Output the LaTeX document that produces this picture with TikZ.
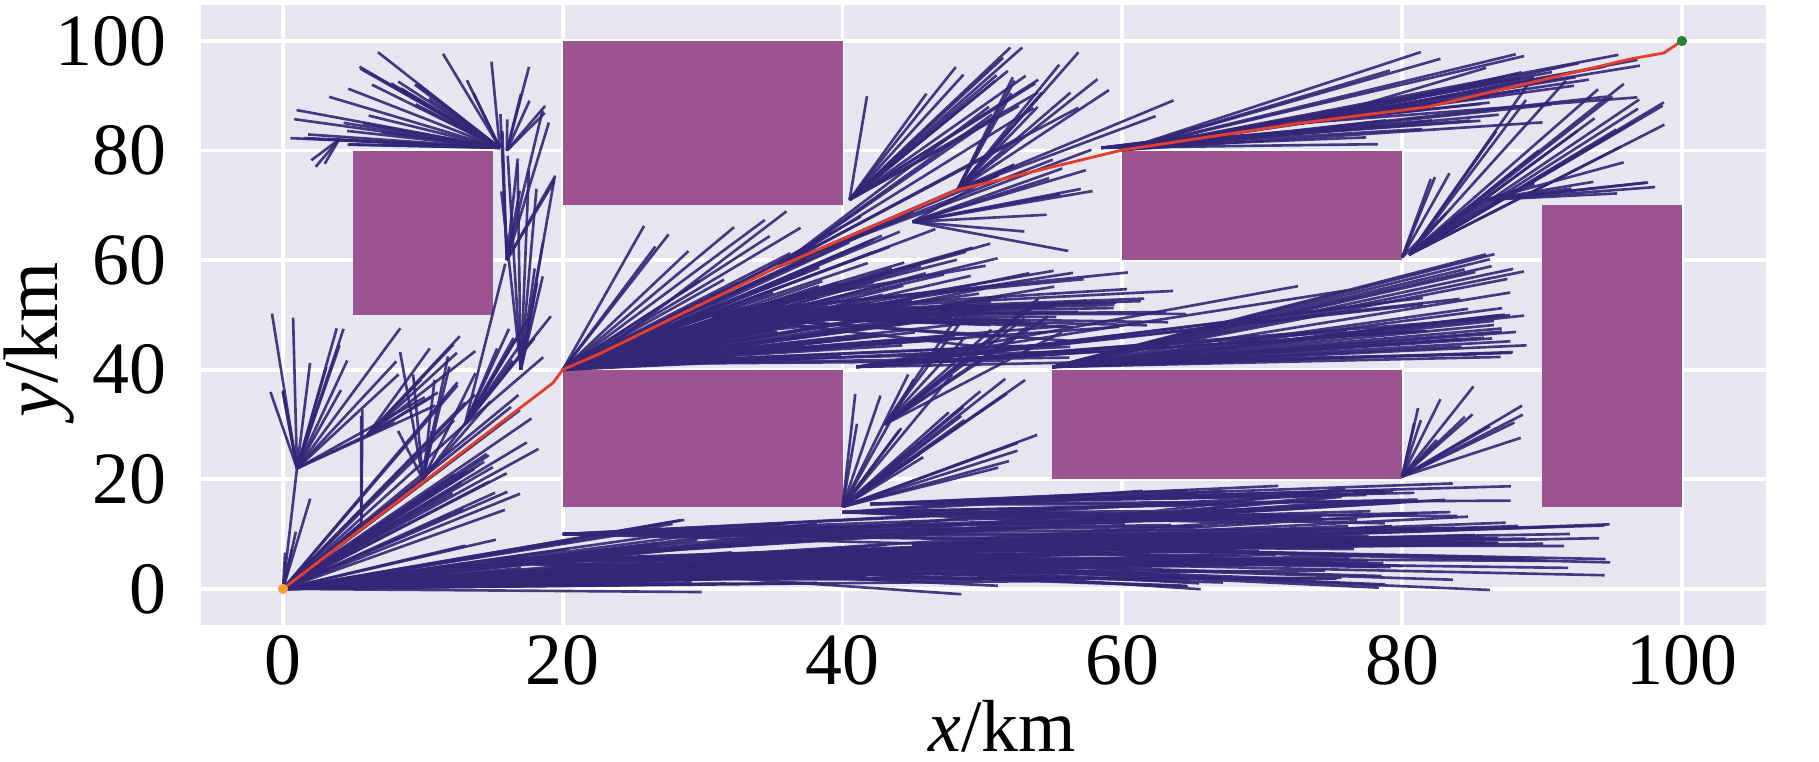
\documentclass[tikz,border=0pt]{standalone}
\usepackage{fontspec}
\setmainfont{Liberation Serif}
\definecolor{panel}{RGB}{229,230,240}
\definecolor{block}{RGB}{150,72,138}
\definecolor{branchc}{RGB}{52,38,118}
\definecolor{routec}{RGB}{228,62,45}
\definecolor{startc}{RGB}{245,160,50}
\definecolor{goalc}{RGB}{40,130,50}
\begin{document}
\begin{tikzpicture}[x=0.1399cm, y=0.0548cm,
  grid line/.style={white, line width=1.1pt},
  obstacle/.style={fill=block, fill opacity=0.93},
  branch/.style={branchc, line width=0.75pt, draw opacity=0.9},
  route/.style={routec, line width=0.8pt},
  dot/.style={circle, inner sep=0pt, minimum size=0.1cm},
  tick/.style={font=\fontsize{21}{25}\selectfont, inner sep=0pt}]
\useasboundingbox (-20.23,-31.57) rectangle (109.80,107.48);
\fill[panel] (-5.86,-6.57) rectangle (106.0,106.57);

\foreach \v in {0,20,...,100}{
  \draw[grid line] (\v,-6.57) -- (\v,106.57);
  \draw[grid line] (-5.86,\v) -- (106.0,\v);
  \node[tick, anchor=base] (xt\v) at (\v,-17.5) {\v};
  \node[tick, anchor=east] (yt\v) at (-8.3,\v) {\v};
}
\node[tick, anchor=base] (xlab) at (51.4,-29.6) {\textit{x}/km};
\node[tick, font=\fontsize{22}{26}\selectfont, anchor=base, rotate=90] (ylab)
  at (-16.1,45.4) {\textit{y}/km};

% obstacles
\fill[obstacle] (5,50) rectangle (15,80);
\fill[obstacle] (20,70) rectangle (40,100);
\fill[obstacle] (20,15) rectangle (40,40);
\fill[obstacle] (60,60) rectangle (80,80);
\fill[obstacle] (55,20) rectangle (80,40);
\fill[obstacle] (90,15) rectangle (100,70);

% tree: root / end box / count
\pgfmathsetseed{42}
\foreach \rx/\ry/\xa/\xb/\ya/\yb/\n in {
  0/0/12/19/14/38/28, 0/0/8/30/0/9/15, 0/0/25/55/0/14/30,
  0/0/20/45/-1/4/12, 0/0/0/2/5/22/4, 10/2/40/80/0/12/20,
  15/5/45/70/-1/14/18, 20/10/60/88/6/19/15, 30/6/60/95/-1/14/30,
  45/8/75/96/2/14/20, 55/12/75/89/14/19/8, 42/15.5/62/89/15/19.5/10,
  40/14/60/89/11/18/12,
  0/0/1/1/22/22/1, 1/22/-1/4.5/35/58/10, 1/22/4/11/28/48/8,
  0/0/5.6/5.6/12/12/1, 5.6/12/5.4/6/28/33/2, 6/28/5/14/33/47/8,
  0/0/10/10/20/20/1, 10/20/8/18/28/45/10,
  0/0/13/13/30/30/1, 13/30/15/19.5/40/60/10,
  17/40/15.5/19.5/55/80/10, 16/60/15.5/19.8/70/90/8,
  15.5/80.5/0/8/82/92/12, 15.5/80.5/4/15/88/98/15,
  16/80/16/19.7/85/96/6, 15.5/80.5/3/5/81/83/3, 4/82/1.5/3.5/77/80/3,
  20/40/28/50/45/62/25, 20/40/25/40/55/68/15, 22/41/40/60/41/50/15,
  20/40/30/58/42/58/20, 22.7/43/35/55/55/69.5/15,
  30/50/50/65/44/59/25, 35.4/58.8/50/58/72/88/10, 45/67/52/59/60/78/10,
  25/45/40/59/52/68/15, 40.5/71/40.5/54/88/99/15,
  48.2/72.8/52/64/86/98/12, 58.5/80.5/70/86/81/86/10,
  60/80.1/75/97/84/98/20, 72.7/85/85/97/88/98/12,
  41/40.5/62/86/42/56/12, 55/40.5/84/89/42/62/30,
  43/30/48/56/42/55/10, 40/15/44/54/22/40/20, 40/15/40.5/43/30/38/3,
  80/60.5/80.2/84/68/77/4, 80.5/61/86/99/80/93/18,
  80.5/61/86/86/71/71/1, 86/71/89/99/71.5/78/8,
  80/20.5/82/89/25/38/10, 80/20.5/80.2/81.5/30/38/3}{
  \foreach \k in {1,...,\n}{
    \pgfmathsetmacro{\ex}{\xa+rnd*((\xb)-(\xa))}
    \pgfmathsetmacro{\ey}{\ya+rnd*((\yb)-(\ya))}
    \draw[branch] (\rx,\ry) -- (\ex,\ey);
  }
}

% found path
\node[dot, fill=startc] (start) at (0,0) {};
\node[dot, fill=goalc] (goal) at (100,100) {};
\draw[route] (start.center) -- (19.3,37.6) -- (20,40) -- (22.7,43) -- (35.4,58.8)
  -- (48.2,72.8) -- (60,80.1) -- (72.7,85) -- (81.9,88) -- (96.3,96.7)
  -- (98.7,97.8) -- (goal.center);
\node[dot, fill=startc] at (start) {};
\node[dot, fill=goalc] at (goal) {};
\end{tikzpicture}
\end{document}
